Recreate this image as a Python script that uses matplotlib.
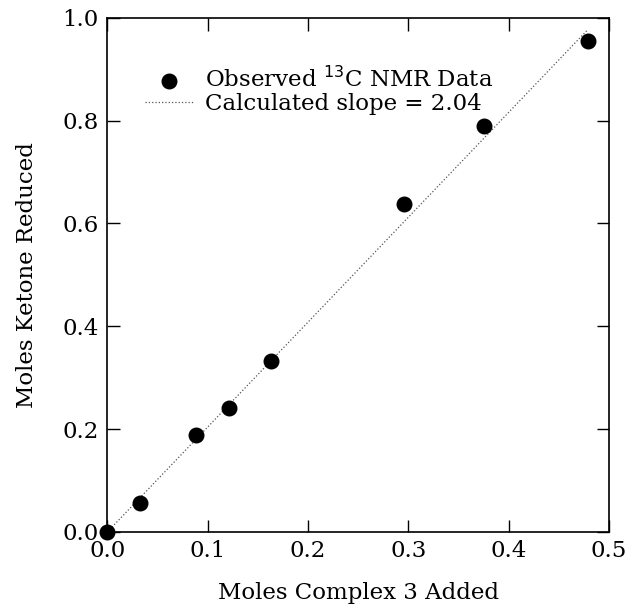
import matplotlib
matplotlib.use("Agg")
import matplotlib.pyplot as plt
import numpy as np

plt.rcParams['font.family'] = ['DejaVu Serif']

moles_complex = [0.0, 0.033, 0.088, 0.121, 0.163, 0.296, 0.375, 0.479]
moles_ketone = [0.0, 0.056, 0.188, 0.241, 0.333, 0.637, 0.790, 0.955]
slope = 2.04
fit_x = [0.0, 0.479]
fit_y = [slope * v for v in fit_x]
x_ticks = [0.0, 0.1, 0.2, 0.3, 0.4, 0.5]
y_ticks = [0.0, 0.2, 0.4, 0.6, 0.8, 1.0]

fig = plt.figure(figsize=(6.31, 6.15), dpi=100)
ax = fig.add_axes([0.170, 0.135, 0.795, 0.836])

ax.plot(fit_x, fit_y, linestyle=':', color='#555555', linewidth=0.9,
        label='Calculated slope = 2.04', zorder=2)
ax.scatter(moles_complex, moles_ketone, s=110, color='black',
           label=r'Observed $^{13}$C NMR Data', zorder=3, clip_on=False)

ax.set_xlim(0, 0.5)
ax.set_ylim(0, 1.0)
ax.set_xticks(x_ticks)
ax.set_yticks(y_ticks)
ax.set_xticklabels([f"{v:.1f}" for v in x_ticks])
ax.set_yticklabels([f"{v:.1f}" for v in y_ticks])
ax.tick_params(direction='in', top=True, right=True, length=9, width=1,
               labelsize=16.5, pad=6)
for s in ax.spines.values():
    s.set_linewidth(1.2)

ax.set_xlabel('Moles Complex 3 Added', fontsize=16.5, labelpad=14)
ax.set_ylabel('Moles Ketone Reduced', fontsize=16.5, labelpad=18)

handles, labels = ax.get_legend_handles_labels()
leg = ax.legend(handles[::-1], labels[::-1], loc='upper left',
                bbox_to_anchor=(0.034, 0.945), frameon=False, fontsize=16.5,
                handlelength=2.1, handletextpad=0.5, labelspacing=0.05)

fig.savefig('out.png', dpi=100)
